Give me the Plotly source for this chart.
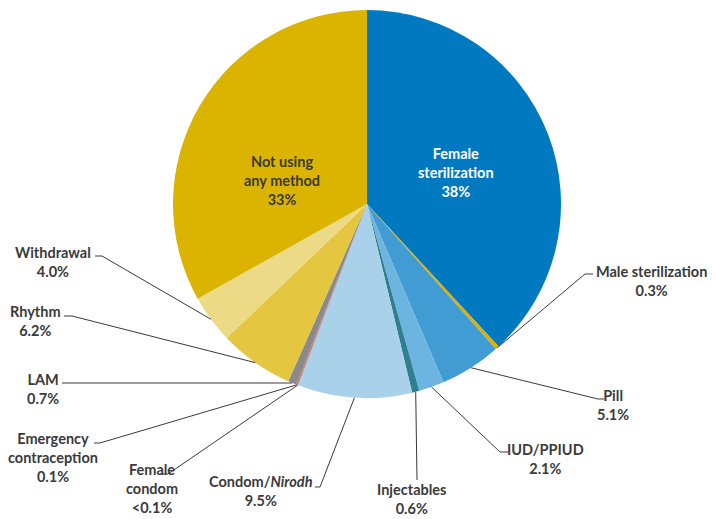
import math
import plotly.graph_objects as go

# ---- data ----
categories = ["Female sterilization", "Male sterilization", "Pill", "IUD/PPIUD",
              "Injectables", "Condom/Nirodh", "Female condom", "Emergency contraception",
              "LAM", "Rhythm", "Withdrawal", "Not using any method"]
values = [38, 0.3, 5.1, 2.1, 0.6, 9.5, 0.05, 0.1, 0.7, 6.2, 4.0, 33]
value_labels = ["38%", "0.3%", "5.1%", "2.1%", "0.6%", "9.5%", "<0.1%", "0.1%",
                "0.7%", "6.2%", "4.0%", "33%"]
colors = ["#0079C1", "#E0B000", "#409CD3", "#6DB5E1", "#2E7F8F", "#A9D1EA",
          "#E8503A", "#B07070", "#8A8A8A", "#E4C640", "#ECDA86", "#DAB400"]

# ---- layout (pixel geometry) ----
W, H = 716, 519
CX, CY, R = 367, 204, 194

def px(x):
    return x / W

def py(y):
    return 1 - y / H

label_text = {
    "Male sterilization": "Male sterilization<br>0.3%",
    "Pill": "Pill<br>5.1%",
    "IUD/PPIUD": "IUD/PPIUD<br>2.1%",
    "Injectables": "Injectables<br>0.6%",
    "Condom/Nirodh": "Condom/<i>Nirodh</i><br>9.5%",
    "Female condom": "Female<br>condom<br>&lt;0.1%",
    "Emergency contraception": "Emergency<br>contraception<br>0.1%",
    "LAM": "LAM<br>0.7%",
    "Rhythm": "Rhythm<br>6.2%",
    "Withdrawal": "Withdrawal<br>4.0%",
}
label_pos = {
    "Male sterilization": (651, 281),
    "Pill": (613, 405),
    "IUD/PPIUD": (545, 459),
    "Injectables": (412, 499),
    "Condom/Nirodh": (261, 491),
    "Female condom": (152, 488),
    "Emergency contraception": (53, 457),
    "LAM": (43, 389),
    "Rhythm": (35, 321),
    "Withdrawal": (53, 262),
}
leader_pts = {
    "Male sterilization": [(585, 274), (593, 274)],
    "Pill": [(598, 399), (604, 399)],
    "IUD/PPIUD": [(500, 452), (508, 452)],
    "Injectables": [(417, 480)],
    "Condom/Nirodh": [(320, 487), (315, 487)],
    "Female condom": [(168, 474), (160, 474)],
    "Emergency contraception": [(100, 443), (94, 443)],
    "LAM": [(62, 383)],
    "Rhythm": [(72, 316), (64, 316)],
    "Withdrawal": [(102, 256), (95, 256)],
}

fig = go.Figure(go.Pie(
    labels=categories, values=values, sort=False, direction="clockwise",
    rotation=0, marker=dict(colors=colors, line=dict(width=0)),
    textinfo="none", hoverinfo="label+percent", showlegend=False,
    domain=dict(x=[px(CX - R), px(CX + R)], y=[py(CY + R), py(CY - R)]),
))

total = sum(values)
cum = 0.0
shapes = []
annotations = []
FONT = "Lato, 'Open Sans', sans-serif"
font_out = dict(family=FONT, size=14.5, color="#3A3A3A")
for cat, v in zip(categories, values):
    theta = 2 * math.pi * (cum + v / 2) / total
    cum += v
    if cat in label_text:
        ex = CX + R * math.sin(theta)
        ey = CY - R * math.cos(theta)
        pts = [(ex, ey)] + leader_pts[cat]
        path = "M " + " L ".join(f"{px(x):.5f} {py(y):.5f}" for x, y in pts)
        shapes.append(dict(type="path", path=path, xref="paper", yref="paper",
                           line=dict(color="#3A3A3A", width=1)))
        lx, ly = label_pos[cat]
        annotations.append(dict(x=px(lx), y=py(ly), xref="paper", yref="paper",
                                text="<b>" + label_text[cat] + "</b>", showarrow=False,
                                font=font_out, align="center",
                                xanchor="center", yanchor="middle"))

annotations.append(dict(x=px(456), y=py(173), xref="paper", yref="paper",
                        text="<b>Female<br>sterilization<br>38%</b>", showarrow=False,
                        font=dict(family=FONT, size=14.5, color="#FFFFFF"),
                        align="center", xanchor="center", yanchor="middle"))
annotations.append(dict(x=px(282), y=py(180), xref="paper", yref="paper",
                        text="<b>Not using<br>any method<br>33%</b>", showarrow=False,
                        font=dict(family=FONT, size=14.5, color="#3A3A3A"),
                        align="center", xanchor="center", yanchor="middle"))

fig.update_layout(width=W, height=H, margin=dict(l=0, r=0, t=0, b=0),
                  paper_bgcolor="white", plot_bgcolor="white",
                  shapes=shapes, annotations=annotations)
fig.write_html("out.html", config={"displayModeBar": False},
               post_script="document.body.style.margin='0';document.body.style.padding='0';")
